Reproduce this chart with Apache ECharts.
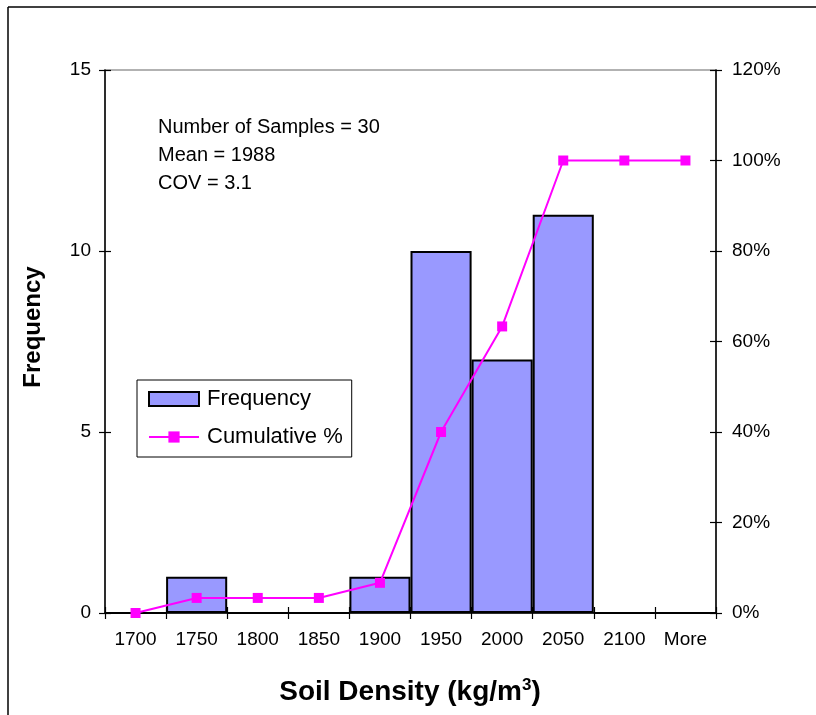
<!DOCTYPE html>
<html>
<head>
<meta charset="utf-8">
<script src="https://cdn.jsdelivr.net/npm/echarts@6/dist/echarts.min.js"></script>
<style>
html,body{margin:0;padding:0;background:#fff;}
#chart{width:816px;height:715px;}
</style>
</head>
<body>
<div id="chart"></div>
<script>
const categories = ['1700','1750','1800','1850','1900','1950','2000','2050','2100','More'];
const frequency = [0, 1, 0, 0, 1, 10, 7, 11, 0, 0];
const cumulative = [0, 3.33, 3.33, 3.33, 6.67, 40, 63.33, 100, 100, 100];
const freqTicks = {min: 0, max: 15, interval: 5};
const pctTicks = {min: 0, max: 120, interval: 20};
const noteLines = ['Number of Samples = 30', 'Mean = 1988', 'COV = 3.1'];
const yTitle = 'Frequency';
const xTitle = 'Soil Density (kg/m';

const FONT = "'Liberation Sans', Arial, sans-serif";
const chart = echarts.init(document.getElementById('chart'), null, {renderer: 'canvas'});

const tickLabel = {color: '#000', fontFamily: FONT, fontSize: 19};

chart.setOption({
  animation: false,
  backgroundColor: '#fff',
  grid: {left: 105, right: 100, top: 70, bottom: 102, show: true, borderColor: '#999', borderWidth: 1.5, containLabel: false},
  legend: {
    orient: 'vertical', left: 137, top: 380,
    padding: [7, 9, 8, 11],
    borderColor: '#000', borderWidth: 1,
    itemWidth: 50, itemHeight: 14, itemGap: 14,
    textStyle: {fontFamily: FONT, fontSize: 22, color: '#000', lineHeight: 24, padding: [0, 0, 0, 3]},
    data: [
      {name: 'Frequency', icon: 'rect'},
      {name: 'Cumulative %'}
    ]
  },
  xAxis: [
    {
      type: 'category', data: categories, position: 'bottom',
      axisLine: {lineStyle: {color: '#000', width: 1.5}},
      axisTick: {show: true, length: 6, lineStyle: {color: '#000', width: 1.2}},
      axisLabel: Object.assign({margin: 17, interval: 0}, tickLabel),
      splitLine: {show: false}
    },
    {
      type: 'category', data: categories, position: 'bottom',
      axisLine: {show: false},
      axisTick: {show: true, inside: true, length: 6, lineStyle: {color: '#000', width: 1.2}},
      axisLabel: {show: false},
      splitLine: {show: false}
    }
  ],
  yAxis: [
    {
      type: 'value', position: 'left', min: freqTicks.min, max: freqTicks.max, interval: freqTicks.interval,
      axisLine: {show: true, lineStyle: {color: '#000', width: 1.5}},
      axisTick: {show: true, length: 6, lineStyle: {color: '#000', width: 1.2}},
      axisLabel: Object.assign({margin: 14}, tickLabel),
      splitLine: {show: false}
    },
    {
      type: 'value', position: 'right', min: pctTicks.min, max: pctTicks.max, interval: pctTicks.interval,
      axisLine: {show: true, lineStyle: {color: '#000', width: 1.5}},
      axisTick: {show: true, length: 6, lineStyle: {color: '#000', width: 1.2}},
      axisLabel: Object.assign({margin: 16, formatter: '{value}%'}, tickLabel),
      splitLine: {show: false}
    },
    {
      type: 'value', position: 'left', min: freqTicks.min, max: freqTicks.max, interval: freqTicks.interval,
      axisLine: {show: false},
      axisTick: {show: true, inside: true, length: 6, lineStyle: {color: '#000', width: 1.2}},
      axisLabel: {show: false},
      splitLine: {show: false}
    },
    {
      type: 'value', position: 'right', min: pctTicks.min, max: pctTicks.max, interval: pctTicks.interval,
      axisLine: {show: false},
      axisTick: {show: true, inside: true, length: 6, lineStyle: {color: '#000', width: 1.2}},
      axisLabel: {show: false},
      splitLine: {show: false}
    }
  ],
  series: [
    {
      name: 'Frequency', type: 'bar', xAxisIndex: 0, yAxisIndex: 0,
      data: frequency, barCategoryGap: '0%',
      itemStyle: {color: '#9999FF', borderColor: '#000', borderWidth: 2}
    },
    {
      name: 'Cumulative %', type: 'line', xAxisIndex: 0, yAxisIndex: 1,
      data: cumulative, symbol: 'rect', symbolSize: 10,
      lineStyle: {color: '#FF00FF', width: 2},
      itemStyle: {color: '#FF00FF', borderWidth: 0},
      z: 5
    }
  ],
  graphic: [
    {type: 'line', shape: {x1: 8, y1: 7, x2: 816, y2: 7}, style: {stroke: '#000', lineWidth: 1.5}, silent: true},
    {type: 'line', shape: {x1: 8, y1: 7, x2: 8, y2: 715}, style: {stroke: '#000', lineWidth: 1.5}, silent: true},
    {
      type: 'text', left: 158, top: 113,
      style: {text: noteLines.join('\n'), fontFamily: FONT, fontSize: 20, lineHeight: 28, fill: '#000'}
    },
    {
      type: 'text', x: 33, y: 327, rotation: Math.PI / 2,
      style: {text: yTitle, fontFamily: FONT, fontSize: 24, fontWeight: 'bold', fill: '#000', align: 'center', verticalAlign: 'middle'}
    },
    {
      type: 'text', x: 410, y: 692,
      style: {
        text: '{a|' + xTitle + '}{s|3}{a|)}',
        align: 'center', verticalAlign: 'middle',
        rich: {
          a: {fontFamily: FONT, fontSize: 28, fontWeight: 'bold', fill: '#000', color: '#000'},
          s: {fontFamily: FONT, fontSize: 17, fontWeight: 'bold', fill: '#000', color: '#000', verticalAlign: 'top', padding: [0, 0, 13, 0]}
        }
      }
    }
  ]
});
</script>
</body>
</html>
